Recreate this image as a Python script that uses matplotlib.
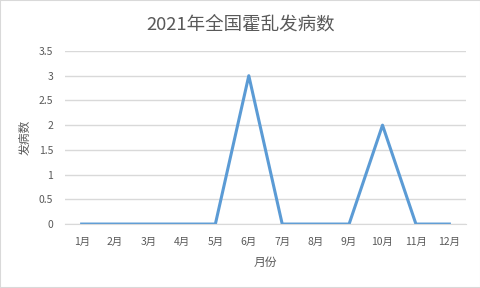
import matplotlib
matplotlib.use("Agg")
import matplotlib.pyplot as plt
from matplotlib.patches import Rectangle

plt.rcParams['font.family'] = ['Noto Sans CJK SC', 'DejaVu Sans']

months = ['1月', '2月', '3月', '4月', '5月', '6月', '7月', '8月', '9月', '10月', '11月', '12月']
cases = [0, 0, 0, 0, 0, 3, 0, 0, 0, 2, 0, 0]
yticks = [0, 0.5, 1, 1.5, 2, 2.5, 3, 3.5]
ytick_labels = ['0', '0.5', '1', '1.5', '2', '2.5', '3', '3.5']

text_color = '#595959'
grid_color = '#D9D9D9'
line_color = '#5B9BD5'

fig = plt.figure(figsize=(4.81, 2.88), dpi=100)
fig.patch.set_facecolor('white')
fig.patches.append(Rectangle((0, 0), 1, 1, transform=fig.transFigure,
                             fill=False, edgecolor=grid_color, linewidth=1.5))

ax = fig.add_axes([0.135, 0.222, 0.834, 0.601])
x = list(range(len(months)))
ax.plot(x, cases, color=line_color, linewidth=2.2, solid_joinstyle='round')

ax.set_xlim(-0.5, len(months) - 0.5)
ax.set_ylim(0, 3.5)
ax.set_yticks(yticks)
ax.set_yticklabels(ytick_labels)
ax.set_xticks(x)
ax.set_xticklabels(months)
ax.grid(axis='y', color=grid_color, linewidth=1)
ax.set_axisbelow(True)
for s in ['top', 'right', 'left']:
    ax.spines[s].set_visible(False)
ax.spines['bottom'].set_color(grid_color)
ax.tick_params(axis='both', length=0, labelsize=7.5, colors=text_color)
ax.tick_params(axis='x', pad=9)
ax.tick_params(axis='y', pad=8.5)

ax.set_xlabel('月份', fontsize=8.5, color=text_color, labelpad=7)
ax.set_ylabel('发病数', fontsize=8.5, color=text_color)
ax.yaxis.set_label_coords(-0.082, 0.5)

fig.text(0.5, 0.915, '2021年全国霍乱发病数', ha='center', va='center',
         fontsize=13.3, color=text_color)

fig.savefig('out.png', dpi=100)
